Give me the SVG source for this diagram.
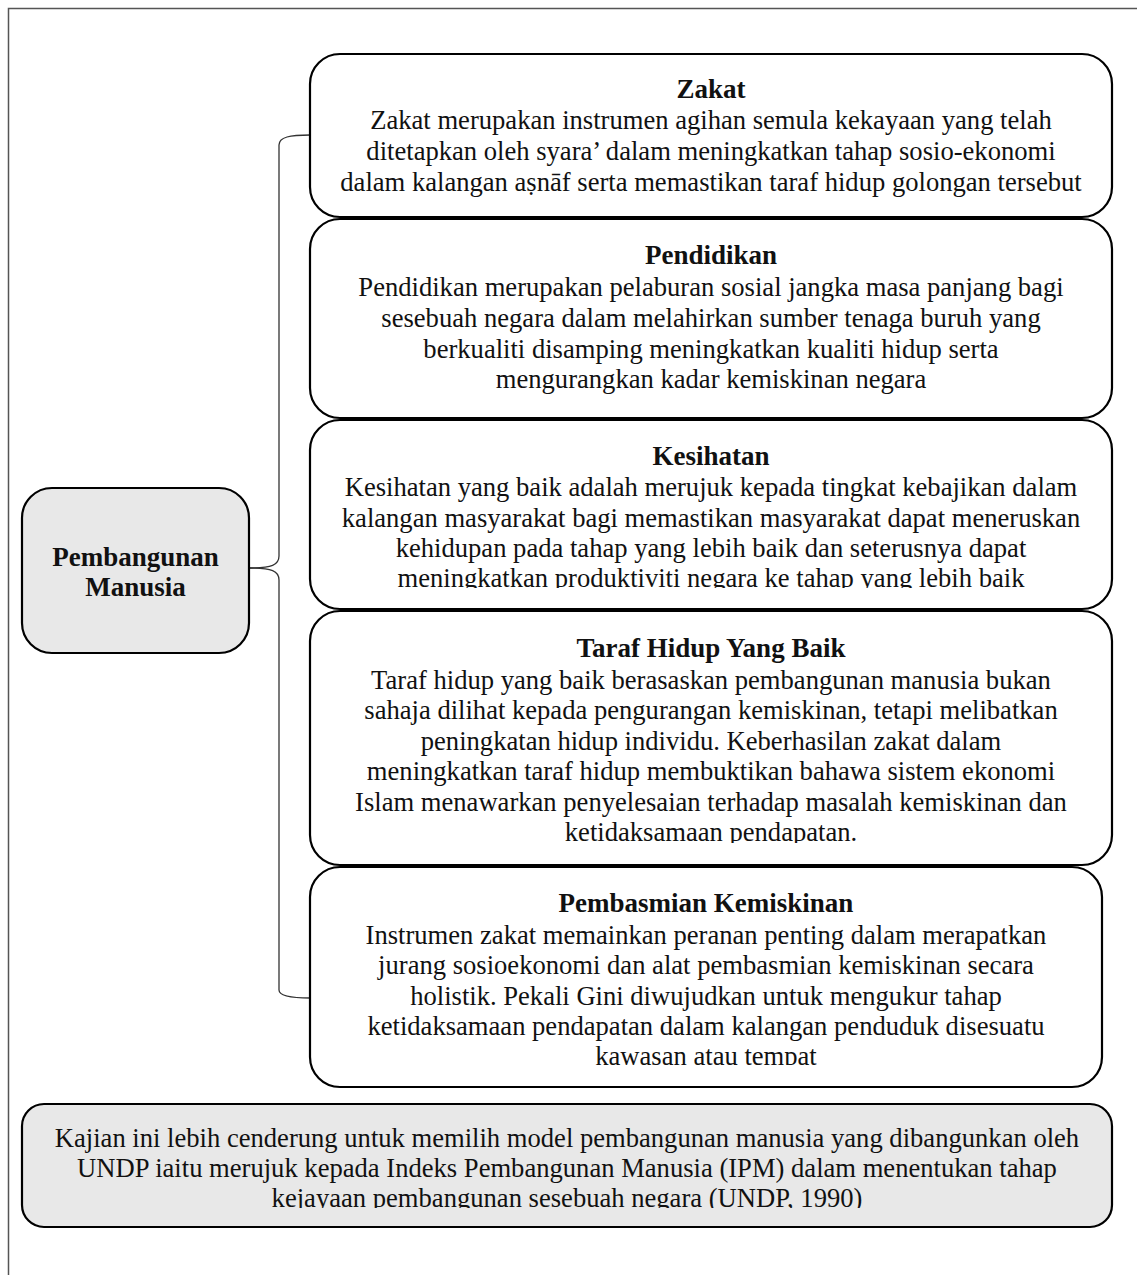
<svg xmlns="http://www.w3.org/2000/svg" width="1137" height="1275" viewBox="0 0 1137 1275">
<style>
.box{fill:#fff;stroke:#000;stroke-width:2.2}
.grey{fill:#e8e8e8;stroke:#000;stroke-width:2.2}
.t{font-family:"Liberation Serif","Times New Roman",serif;font-size:26.6px;fill:#111;text-anchor:middle}
.b{font-weight:bold;font-size:27px}
.conn{fill:none;stroke:#333;stroke-width:1.3}
</style>
<defs>
<clipPath id="c3"><rect x="300" y="420" width="820" height="168"/></clipPath>
<clipPath id="c4"><rect x="300" y="611" width="820" height="232"/></clipPath>
<clipPath id="c5"><rect x="300" y="867" width="820" height="198"/></clipPath>
<clipPath id="c6"><rect x="20" y="1104" width="1100" height="104"/></clipPath>
</defs>
<rect x="8.5" y="8.5" width="1140" height="1280" fill="#fff" stroke="#555" stroke-width="1.5"/>
<g id="connectors">
<path class="conn" d="M310,135 C290,135 279,137 279,145 L279,556 C279,565 272,568 249,568"/>
<path class="conn" d="M249,568 C272,568 279,571 279,580 L279,990 C279,996 290,998 310,998"/>
</g>
<g id="node-pembangunan">
<rect class="grey" x="22" y="488" width="227" height="165" rx="30"/>
<text class="t b" x="135.5" y="566">Pembangunan</text>
<text class="t b" x="135.5" y="596">Manusia</text>
</g>
<g id="node-zakat">
<rect class="box" x="310" y="54" width="802" height="163" rx="30"/>
<text class="t b" x="711" y="98">Zakat</text>
<text class="t" x="711" y="129">Zakat merupakan instrumen agihan semula kekayaan yang telah</text>
<text class="t" x="711" y="160">ditetapkan oleh syara’ dalam meningkatkan tahap sosio-ekonomi</text>
<text class="t" x="711" y="191">dalam kalangan aṣnāf serta memastikan taraf hidup golongan tersebut</text>
</g>
<g id="node-pendidikan">
<rect class="box" x="310" y="219" width="802" height="199" rx="30"/>
<text class="t b" x="711" y="264">Pendidikan</text>
<text class="t" x="711" y="296">Pendidikan merupakan pelaburan sosial jangka masa panjang bagi</text>
<text class="t" x="711" y="327">sesebuah negara dalam melahirkan sumber tenaga buruh yang</text>
<text class="t" x="711" y="358">berkualiti disamping meningkatkan kualiti hidup serta</text>
<text class="t" x="711" y="388">mengurangkan kadar kemiskinan negara</text>
</g>
<g id="node-kesihatan">
<rect class="box" x="310" y="420" width="802" height="189" rx="30"/>
<g clip-path="url(#c3)">
<text class="t b" x="711" y="465">Kesihatan</text>
<text class="t" x="711" y="496">Kesihatan yang baik adalah merujuk kepada tingkat kebajikan dalam</text>
<text class="t" x="711" y="527">kalangan masyarakat bagi memastikan masyarakat dapat meneruskan</text>
<text class="t" x="711" y="557">kehidupan pada tahap yang lebih baik dan seterusnya dapat</text>
<text class="t" x="711" y="587">meningkatkan produktiviti negara ke tahap yang lebih baik</text>
</g>
</g>
<g id="node-taraf">
<rect class="box" x="310" y="611" width="802" height="254" rx="30"/>
<g clip-path="url(#c4)">
<text class="t b" x="711" y="657">Taraf Hidup Yang Baik</text>
<text class="t" x="711" y="689">Taraf hidup yang baik berasaskan pembangunan manusia bukan</text>
<text class="t" x="711" y="719">sahaja dilihat kepada pengurangan kemiskinan, tetapi melibatkan</text>
<text class="t" x="711" y="750">peningkatan hidup individu. Keberhasilan zakat dalam</text>
<text class="t" x="711" y="780">meningkatkan taraf hidup membuktikan bahawa sistem ekonomi</text>
<text class="t" x="711" y="811">Islam menawarkan penyelesaian terhadap masalah kemiskinan dan</text>
<text class="t" x="711" y="841">ketidaksamaan pendapatan.</text>
</g>
</g>
<g id="node-pembasmian">
<rect class="box" x="310" y="867" width="792" height="220" rx="30"/>
<g clip-path="url(#c5)">
<text class="t b" x="706" y="912">Pembasmian Kemiskinan</text>
<text class="t" x="706" y="944">Instrumen zakat memainkan peranan penting dalam merapatkan</text>
<text class="t" x="706" y="974">jurang sosioekonomi dan alat pembasmian kemiskinan secara</text>
<text class="t" x="706" y="1005">holistik. Pekali Gini diwujudkan untuk mengukur tahap</text>
<text class="t" x="706" y="1035">ketidaksamaan pendapatan dalam kalangan penduduk disesuatu</text>
<text class="t" x="706" y="1065">kawasan atau tempat</text>
</g>
</g>
<g id="node-kajian">
<rect class="grey" x="22" y="1104" width="1090" height="123" rx="22"/>
<g clip-path="url(#c6)">
<text class="t" x="567" y="1147">Kajian ini lebih cenderung untuk memilih model pembangunan manusia yang dibangunkan oleh</text>
<text class="t" x="567" y="1177">UNDP iaitu merujuk kepada Indeks Pembangunan Manusia (IPM) dalam menentukan tahap</text>
<text class="t" x="567" y="1207">kejayaan pembangunan sesebuah negara (UNDP, 1990)</text>
</g>
</g>
</svg>
